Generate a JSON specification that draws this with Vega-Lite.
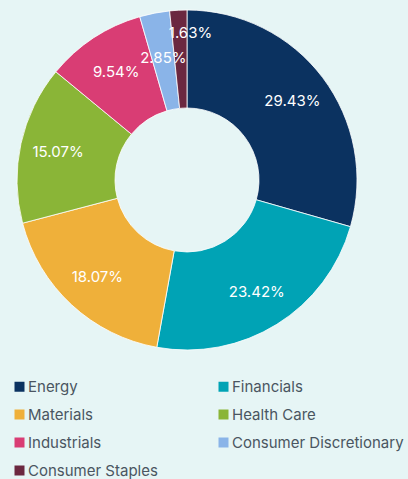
{
  "$schema": "https://vega.github.io/schema/vega-lite/v6.json",
  "width": 340,
  "height": 340,
  "autosize": {"type": "none"},
  "padding": {"left": 17, "top": 10, "right": 51, "bottom": 129},
  "background": "#e6f5f5",
  "config": {"view": {"stroke": null}, "font": "Inter"},
  "data": {
    "values": [
      {"sector": "Energy", "pct": 29.43, "label": "29.43%", "idx": 1},
      {"sector": "Financials", "pct": 23.42, "label": "23.42%", "idx": 2},
      {"sector": "Materials", "pct": 18.07, "label": "18.07%", "idx": 3},
      {"sector": "Health Care", "pct": 15.07, "label": "15.07%", "idx": 4},
      {"sector": "Industrials", "pct": 9.54, "label": "9.54%", "idx": 5},
      {"sector": "Consumer Discretionary", "pct": 2.85, "label": "2.85%", "idx": 6},
      {"sector": "Consumer Staples", "pct": 1.63, "label": "1.63%", "idx": 7}
    ]
  },
  "encoding": {
    "theta": {"field": "pct", "type": "quantitative", "stack": true},
    "order": {"field": "idx", "type": "quantitative"}
  },
  "layer": [
    {
      "mark": {"type": "arc", "outerRadius": 170, "innerRadius": 72, "stroke": "#ffffff", "strokeWidth": 0.8},
      "encoding": {
        "color": {
          "field": "sector",
          "type": "nominal",
          "scale": {
            "domain": ["Energy", "Financials", "Materials", "Health Care", "Industrials", "Consumer Discretionary", "Consumer Staples"],
            "range": ["#0b3260", "#00a3b5", "#efb03a", "#8ab537", "#d93d74", "#8ab4e8", "#6b2840"]
          },
          "legend": {
            "title": null,
            "orient": "none",
            "legendX": -5,
            "legendY": 369,
            "direction": "horizontal",
            "columns": 2,
            "columnPadding": 58,
            "rowPadding": 12,
            "symbolType": "square",
            "symbolSize": 100,
            "symbolStrokeWidth": 0,
            "symbolOpacity": 1,
            "labelFontSize": 15,
            "labelColor": "#4a5561",
            "labelOffset": 1,
            "labelLimit": 300
          }
        }
      }
    },
    {
      "mark": {"type": "text", "radius": 132, "color": "#ffffff", "fontSize": 15, "fontWeight": "normal"},
      "encoding": {
        "text": {"condition": {"test": "datum.idx <= 4", "field": "label"}, "value": ""},
        "detail": {"field": "sector"}
      }
    },
    {
      "mark": {"type": "text", "radius": 129, "color": "#ffffff", "fontSize": 15, "fontWeight": "normal"},
      "encoding": {
        "text": {"condition": {"test": "datum.idx == 5", "field": "label"}, "value": ""},
        "detail": {"field": "sector"}
      }
    },
    {
      "mark": {"type": "text", "radius": 124, "color": "#ffffff", "fontSize": 15, "fontWeight": "normal"},
      "encoding": {
        "text": {"condition": {"test": "datum.idx == 6", "field": "label"}, "value": ""},
        "detail": {"field": "sector"}
      }
    },
    {
      "mark": {"type": "text", "radius": 147, "dx": 11, "color": "#ffffff", "fontSize": 15, "fontWeight": "normal"},
      "encoding": {
        "text": {"condition": {"test": "datum.idx == 7", "field": "label"}, "value": ""},
        "detail": {"field": "sector"}
      }
    }
  ]
}
